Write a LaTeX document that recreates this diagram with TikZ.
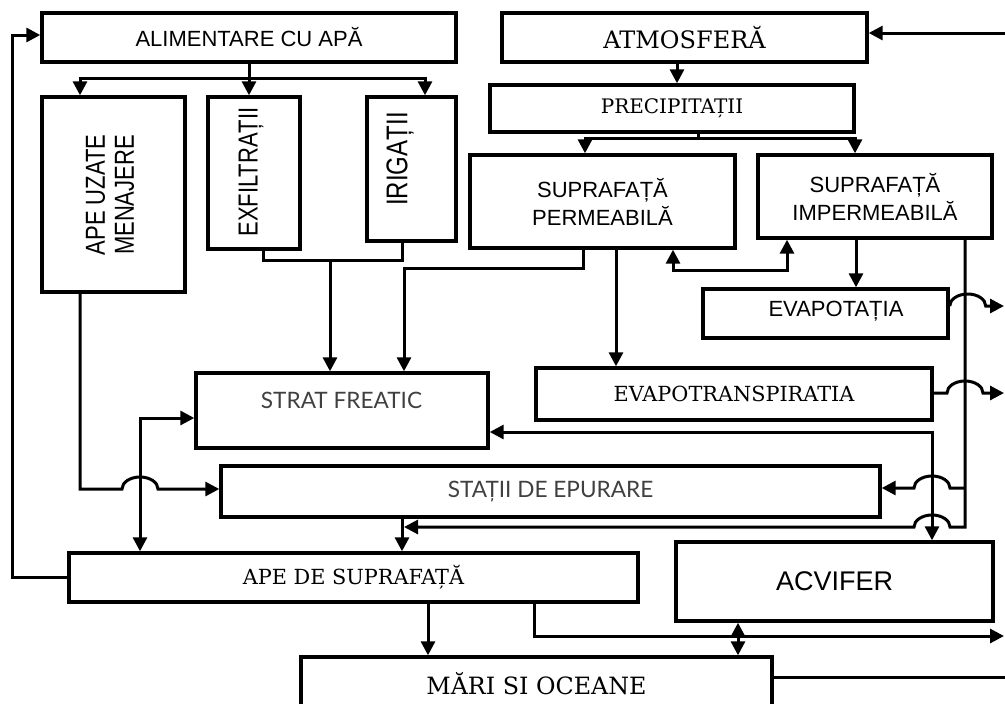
\documentclass[tikz,border=0pt]{standalone}
\usepackage{fontspec}
\setmainfont{DejaVu Serif}
\setsansfont{Liberation Sans}
\newfontfamily\gothfont{Lato}
\usetikzlibrary{arrows.meta}
\tikzset{
  box/.style={draw,line width=1.7pt,inner sep=0pt,align=center,font=\sffamily\fontsize{11}{14}\selectfont},
  sbox/.style={box,font=\rmfamily\fontsize{10.4}{12}\selectfont},
  gtxt/.style={font=\gothfont\fontsize{11.3}{13}\selectfont,text=black!75},
  vtxt/.style={rotate=90,yscale=1.25,align=center,inner sep=0pt,font=\sffamily\fontsize{11}{11.6}\selectfont},
  ln/.style={line width=1.5pt},
  ar/.style={ln,-{Triangle[length=7pt,width=7pt]}},
  dar/.style={ln,{Triangle[length=7pt,width=7pt]}-{Triangle[length=7pt,width=7pt]}},
  jump/.style={x radius=9pt,y radius=6pt},
}

\begin{document}
\begin{tikzpicture}[x=0.5pt,y=-0.5pt]
\useasboundingbox (0,0) rectangle (1005,703);
\clip (0,0) rectangle (1005,703);

% top row
\node[box,minimum width=207pt,minimum height=24.5pt] (alim) at (249,37.5) {ALIMENTARE CU APĂ};
\node[sbox,font=\rmfamily\fontsize{12}{14}\selectfont,minimum width=182.5pt,minimum height=24.5pt] (atm) at (684.5,37.5) {ATMOSFERĂ};
\node[sbox,font=\rmfamily\fontsize{10}{12}\selectfont,minimum width=182pt,minimum height=23.5pt] (prec) at (672,108.5) {PRECIPITAȚII};

% uses of water
\node[box,minimum width=71.5pt,minimum height=97.5pt] (apeuz) at (113.5,194.5) {};
\node[vtxt] (apeuz-t) at (110,195) {APE UZATE\\MENAJERE};
\node[box,minimum width=46pt,minimum height=76pt] (exf) at (254,173) {};
\node[vtxt] (exf-t) at (251,172) {EXFILTRAȚII};
\node[box,minimum width=44.5pt,minimum height=72pt] (irig) at (411.5,169) {};
\node[vtxt,font=\sffamily\fontsize{12}{14}\selectfont] (irig-t) at (400,159) {IRIGAȚII};

% surfaces
\node[box,minimum width=132.5pt,minimum height=46.5pt] (perm) at (602.5,201.5) {SUPRAFAȚĂ\\PERMEABILĂ};
\node[box,minimum width=117pt,minimum height=41.5pt] (imp) at (875,196.5) {SUPRAFAȚĂ\\IMPERMEABILĂ};
\node[box,minimum width=122.5pt,minimum height=24.5pt] (evap) at (825.5,313.5) {};
\node[inner sep=0pt,font=\sffamily\fontsize{11}{14}\selectfont] (evap-t) at (836,311) {EVAPOTAȚIA};
\node[sbox,minimum width=198pt,minimum height=26pt] (evtr) at (734,394) {EVAPOTRANSPIRATIA};

% ground and treatment
\node[box,minimum width=146pt,minimum height=37.5pt] (strat) at (342,410.5) {};
\node[gtxt,inner sep=0pt] (strat-t) at (341.5,400) {STRAT FREATIC};
\node[box,gtxt,minimum width=329.5pt,minimum height=25.5pt] (statii) at (550.5,491.5) {STAȚII DE EPURARE};

% bottom
\node[sbox,minimum width=284.5pt,minimum height=24.5pt] (apesup) at (353.5,577.5) {APE DE SUPRAFAȚĂ};
\node[box,font=\sffamily\fontsize{13.5}{14}\selectfont,minimum width=158.5pt,minimum height=39.5pt] (acv) at (834.5,581.5) {ACVIFER};
\node[sbox,font=\rmfamily\fontsize{11.9}{14}\selectfont,minimum width=235.5pt,minimum height=27pt] (mari) at (536.5,684) {MĂRI SI OCEANE};

% free ends at the right border
\coordinate (e-atm) at (1005,33);
\coordinate (e-evap) at (1004,306);
\coordinate (e-evtr) at (1004,393);
\coordinate (e-ape) at (1004,636);
\coordinate (e-mari) at (1005,677);
\coordinate (lft) at (12,35);

% supply
\draw[ar] (apesup.west) -| (lft) -- (lft -| alim.west);
\draw[ar] (alim.south) -- (alim.south |- exf.north);
\draw[ar] (alim.south |- 0,78) -| (80,0 |- apeuz.north);
\draw[ar] (alim.south |- 0,78) -| (425,0 |- irig.north);
\draw[ln] (263,0 |- exf.south) -- (263,260) -| (402,0 |- irig.south);
\draw[ar] (330,260) -- (330,0 |- strat.north);

% precipitation
\draw[ar] (677,0 |- atm.south) -- (677,0 |- prec.north);
\draw[ln] (698,0 |- prec.south) -- (698,138);
\draw[ar] (698,138) -| (585,0 |- perm.north);
\draw[ar] (698,138) -| (855,0 |- imp.north);
\draw[ar] (583,0 |- perm.south) -- (583,268) -| (404,0 |- strat.north);
\draw[ar] (616,0 |- perm.south) -- (616,0 |- evtr.north);
\draw[dar] (673,0 |- perm.south) -- (673,270) -| (787,0 |- imp.south);
\draw[ar] (856,0 |- imp.south) -- (856,0 |- evap.north);

% runoff from impermeable surface
\draw[ar] (965,0 |- imp.south) -- (965,527) -- (950,527)
  arc[start angle=0,end angle=180,jump] -- (404,527);
\draw[ar] (965,488) -- (950,488)
  arc[start angle=0,end angle=180,jump] -- (statii.east |- 0,488);
\draw[ar] (evap.east |- 0,306) arc[start angle=180,end angle=0,jump] -- (e-evap);
\draw[ar] (evtr.east |- 0,393) -- (947,393) arc[start angle=180,end angle=0,jump] -- (e-evtr);
\draw[ar] (e-atm) -- (atm.east |- e-atm);

% ground water
\draw[dar] (strat.east |- 0,432) -| (932,0 |- acv.north);
\draw[dar] (strat.west |- 0,418) -| (140,0 |- apesup.north);
\draw[ar] (80,0 |- apeuz.south) -- (80,489) -- (122,489)
  arc[start angle=180,end angle=0,jump] -- (statii.west |- 0,489);
\draw[ar] (402,0 |- statii.south) -- (402,0 |- apesup.north);

% to the sea
\draw[ar] (428,0 |- apesup.south) -- (428,0 |- mari.north);
\draw[ar] (534,0 |- apesup.south) -- (534,636) -- (e-ape);
\draw[dar] (738,0 |- acv.south) -- (738,0 |- mari.north);
\draw[ln] (mari.east |- e-mari) -- (e-mari);
\end{tikzpicture}
\end{document}
